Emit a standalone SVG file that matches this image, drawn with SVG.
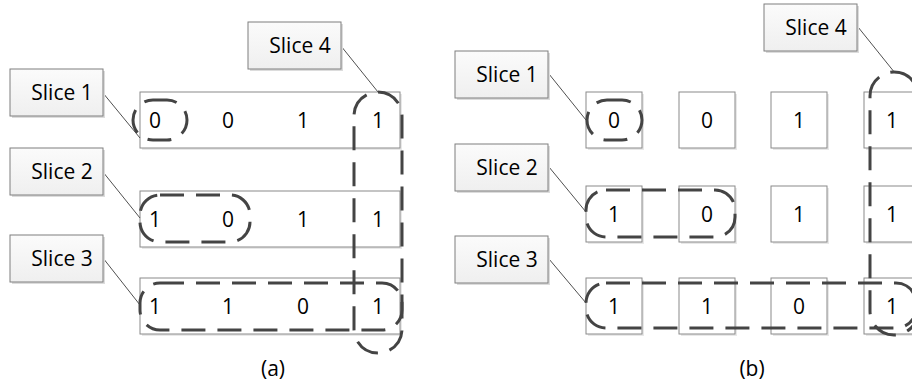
<svg xmlns="http://www.w3.org/2000/svg" width="912" height="387" viewBox="0 0 912 387">
<defs>
<linearGradient id="lg" x1="0" y1="0" x2="0" y2="1">
<stop offset="0" stop-color="#fbfbfb"/>
<stop offset="1" stop-color="#efefef"/>
</linearGradient>
<style>
text{font-family:"Open Sans","Liberation Sans",sans-serif;font-size:21px;fill:#000;text-anchor:middle}
.lbl rect.b{fill:url(#lg);stroke:#7f7f7f;stroke-width:1}
.sh{fill:#dcdcdc;stroke:none}
.cell{fill:#fff;stroke:#8a8a8a;stroke-width:1}
.cs{fill:#e8e8e8;stroke:none}
.dash{fill:none;stroke:#444;stroke-width:3;stroke-dasharray:24 12}
.conn line{stroke:#505050;stroke-width:1}
</style>
</defs>
<rect width="912" height="387" fill="#fff"/>

<!-- panel (a) rows -->
<g id="a-row1"><rect class="cs" x="142" y="94" width="260" height="56"/><rect class="cell" x="140" y="92" width="260" height="56"/>
<text x="155" y="128">0</text><text x="228" y="128">0</text><text x="303" y="128">1</text><text x="378" y="128">1</text></g>
<g id="a-row2"><rect class="cs" x="142" y="193" width="260" height="56"/><rect class="cell" x="140" y="191" width="260" height="56"/>
<text x="155" y="227">1</text><text x="228" y="227">0</text><text x="303" y="227">1</text><text x="378" y="227">1</text></g>
<g id="a-row3"><rect class="cs" x="142" y="280" width="260" height="56"/><rect class="cell" x="140" y="278" width="260" height="56"/>
<text x="155" y="314">1</text><text x="228" y="314">1</text><text x="303" y="314">0</text><text x="378" y="314">1</text></g>

<!-- panel (b) cells -->
<g id="b-row1">
<rect class="cs" x="588" y="94" width="56" height="56"/><rect class="cell" x="586" y="92" width="56" height="56"/><text x="614" y="128">0</text>
<rect class="cs" x="681" y="94" width="56" height="56"/><rect class="cell" x="679" y="92" width="56" height="56"/><text x="707" y="128">0</text>
<rect class="cs" x="773" y="94" width="56" height="56"/><rect class="cell" x="771" y="92" width="56" height="56"/><text x="799" y="128">1</text>
<rect class="cs" x="866" y="94" width="56" height="56"/><rect class="cell" x="864" y="92" width="56" height="56"/><text x="892" y="128">1</text>
</g>
<g id="b-row2">
<rect class="cs" x="588" y="188" width="56" height="56"/><rect class="cell" x="586" y="186" width="56" height="56"/><text x="614" y="222">1</text>
<rect class="cs" x="681" y="188" width="56" height="56"/><rect class="cell" x="679" y="186" width="56" height="56"/><text x="707" y="222">0</text>
<rect class="cs" x="773" y="188" width="56" height="56"/><rect class="cell" x="771" y="186" width="56" height="56"/><text x="799" y="222">1</text>
<rect class="cs" x="866" y="188" width="56" height="56"/><rect class="cell" x="864" y="186" width="56" height="56"/><text x="892" y="222">1</text>
</g>
<g id="b-row3">
<rect class="cs" x="588" y="280" width="56" height="56"/><rect class="cell" x="586" y="278" width="56" height="56"/><text x="614" y="314">1</text>
<rect class="cs" x="681" y="280" width="56" height="56"/><rect class="cell" x="679" y="278" width="56" height="56"/><text x="707" y="314">1</text>
<rect class="cs" x="773" y="280" width="56" height="56"/><rect class="cell" x="771" y="278" width="56" height="56"/><text x="799" y="314">0</text>
<rect class="cs" x="866" y="280" width="56" height="56"/><rect class="cell" x="864" y="278" width="56" height="56"/><text x="892" y="314">1</text>
</g>

<!-- connectors -->
<g id="connectors" class="conn">
<line x1="103" y1="93" x2="140" y2="138"/>
<line x1="103" y1="172" x2="140" y2="218"/>
<line x1="103" y1="258" x2="140" y2="305"/>
<line x1="341" y1="46" x2="378" y2="92"/>
<line x1="549" y1="74" x2="586" y2="120"/>
<line x1="549" y1="167" x2="586" y2="212"/>
<line x1="549" y1="259" x2="586" y2="303"/>
<line x1="858" y1="27" x2="895" y2="73"/>
</g>

<!-- dashed slice outlines -->
<g id="a-slice1-ring"><rect class="dash" x="133" y="100" width="54" height="40" rx="20"/></g>
<g id="a-slice2-ring"><rect class="dash" x="140" y="195" width="110" height="47" rx="20"/></g>
<g id="a-slice3-ring"><rect class="dash" x="140" y="283" width="262" height="47" rx="20"/></g>
<g id="a-slice4-ring"><rect class="dash" x="354" y="92" width="48" height="261" rx="24"/></g>
<g id="b-slice1-ring"><rect class="dash" x="587" y="100" width="55" height="40" rx="20"/></g>
<g id="b-slice2-ring"><rect class="dash" x="586" y="190" width="149" height="47" rx="20"/></g>
<g id="b-slice3-ring"><rect class="dash" x="586" y="283" width="330" height="45" rx="20"/></g>
<g id="b-slice4-ring"><rect class="dash" x="870" y="72" width="48" height="263" rx="24"/></g>

<!-- labels -->
<g id="a-label1" class="lbl"><rect class="sh" x="12" y="71" width="93" height="47"/><rect class="b" x="10" y="69" width="93" height="47"/><text x="62" y="100">Slice 1</text></g>
<g id="a-label2" class="lbl"><rect class="sh" x="12" y="150" width="93" height="47"/><rect class="b" x="10" y="148" width="93" height="47"/><text x="62" y="179">Slice 2</text></g>
<g id="a-label3" class="lbl"><rect class="sh" x="12" y="237" width="93" height="47"/><rect class="b" x="10" y="235" width="93" height="47"/><text x="62" y="266">Slice 3</text></g>
<g id="a-label4" class="lbl"><rect class="sh" x="250" y="24" width="93" height="47"/><rect class="b" x="248" y="22" width="93" height="47"/><text x="300" y="53">Slice 4</text></g>
<g id="b-label1" class="lbl"><rect class="sh" x="457" y="53" width="93" height="47"/><rect class="b" x="455" y="51" width="93" height="47"/><text x="507" y="82">Slice 1</text></g>
<g id="b-label2" class="lbl"><rect class="sh" x="457" y="146" width="93" height="47"/><rect class="b" x="455" y="144" width="93" height="47"/><text x="507" y="175">Slice 2</text></g>
<g id="b-label3" class="lbl"><rect class="sh" x="457" y="238" width="93" height="47"/><rect class="b" x="455" y="236" width="93" height="47"/><text x="507" y="267">Slice 3</text></g>
<g id="b-label4" class="lbl"><rect class="sh" x="766" y="6" width="93" height="47"/><rect class="b" x="764" y="4" width="93" height="47"/><text x="816" y="35">Slice 4</text></g>

<g id="captions"><text x="273" y="376">(a)</text><text x="752" y="376">(b)</text></g>
</svg>
